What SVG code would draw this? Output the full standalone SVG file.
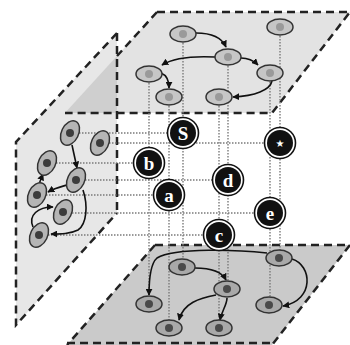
<svg xmlns="http://www.w3.org/2000/svg" width="350" height="345" viewBox="0 0 350 345">
<defs>
<style>
.edge{fill:none;stroke:#222;stroke-dasharray:8 5;stroke-width:2.5;}
.dot{fill:none;stroke:#7a7a7a;stroke-width:1.4;stroke-dasharray:1.5 1.5;}
.arr{fill:none;stroke:#111;stroke-width:1.6;marker-end:url(#ah);}
.tn{fill:#c6c6c6;stroke:#333;stroke-width:1.5;}
.tc{fill:#9a9a9a;}
.bn{fill:#a9a9a9;stroke:#333;stroke-width:1.5;}
.bc{fill:#4a4a4a;}
.ln{fill:#b5b5b5;stroke:#333;stroke-width:1.5;}
.lc{fill:#3c3c3c;}
.ring{fill:#fff;stroke:#111;stroke-width:1.6;}
.core{fill:#111;}
.lbl{fill:#fff;font-family:"Liberation Serif","DejaVu Serif",serif;font-weight:bold;font-size:19px;text-anchor:middle;}
</style>
<marker id="ah" viewBox="0 0 10 10" refX="9" refY="5" markerWidth="7" markerHeight="7" markerUnits="userSpaceOnUse" orient="auto">
<path d="M0,0 L10,5 L0,10 z" fill="#111"/>
</marker>
</defs>

<g id="planes">
<polygon id="left-plane" points="117,33 117,213 16,325 16,142" fill="#e7e7e7" stroke="none"/>
<polygon id="top-plane" points="157,12 350,12 272,113 65,113" fill="#e3e3e3" stroke="none"/>
<polygon id="overlap" points="117,56 117,113 65,113" fill="#cfcfcf"/>
<polygon id="bottom-plane" points="155,245 350,245 272,345 67,345" fill="#cacaca" stroke="none"/>
<path class="edge" d="M117,33 L16,142 L16,325 L117,213 M117,33 L117,213"/>
<path class="edge" d="M157,12 L350,12 L272,113 L65,113 M157,12 L117,56"/>
<path class="edge" d="M155,245 L350,245 M350,245 L272,345 M155,245 L67,345 M67,343 L272,343"/>
</g>

<g id="connectors">
<g id="guides">
<path class="dot" d="M149,74 V304 M169,97 V328 M183,34 V267 M219,97 V328 M228,57 V289 M270,73 V305 M280,27 V258"/>
<path class="dot" d="M70,133 H183 M100,143 H280 M47,163 H149 M76,180 H228 M37,195 H169 M63,213 H270 M39,235 H219"/>
</g>
<g id="top-arrows">
<path class="arr" d="M196,33 C212,33 222,38 226,47"/>
<path class="arr" d="M215,57 C195,56 175,57 162,65"/>
<path class="arr" d="M161,73 C166,75 169,80 169,88"/>
<path class="arr" d="M241,58 C249,58 254,61 258,65"/>
<path class="arr" d="M272,81 C270,90 255,96 233,97"/>
</g>
<g id="bottom-arrows">
<path class="arr" d="M267,253 C240,250 175,247 157,258 C150,264 149,280 149,295"/>
<path class="arr" d="M292,259 C312,265 315,300 283,306"/>
<path class="arr" d="M195,268 C210,268 222,272 226,280"/>
<path class="arr" d="M216,295 C200,298 183,303 179,320"/>
<path class="arr" d="M227,298 C227,305 222,310 220,320"/>
</g>
<g id="left-arrows">
<path class="arr" d="M72,145 L77,168"/>
<path class="arr" d="M39,184 L43,174"/>
<path class="arr" d="M67,185 C60,187 55,188 48,192"/>
<path class="arr" d="M33,227 C28,215 38,207 53,207"/>
<path class="arr" d="M83,190 C88,205 87,224 78,230 C70,234 61,234 51,234"/>
</g>
</g>

<g id="top-nodes">
<g id="t1"><ellipse class="tn" cx="183" cy="34" rx="13" ry="8"/><circle class="tc" cx="183" cy="34" r="4"/></g>
<g id="t2"><ellipse class="tn" cx="280" cy="27" rx="13" ry="8"/><circle class="tc" cx="280" cy="27" r="4"/></g>
<g id="t3"><ellipse class="tn" cx="228" cy="57" rx="13" ry="8"/><circle class="tc" cx="228" cy="57" r="4"/></g>
<g id="t4"><ellipse class="tn" cx="270" cy="73" rx="13" ry="8"/><circle class="tc" cx="270" cy="73" r="4"/></g>
<g id="t5"><ellipse class="tn" cx="149" cy="74" rx="13" ry="8"/><circle class="tc" cx="149" cy="74" r="4"/></g>
<g id="t6"><ellipse class="tn" cx="169" cy="97" rx="13" ry="8"/><circle class="tc" cx="169" cy="97" r="4"/></g>
<g id="t7"><ellipse class="tn" cx="219" cy="97" rx="13" ry="8"/><circle class="tc" cx="219" cy="97" r="4"/></g>
</g>

<g id="bottom-nodes">
<g id="b1"><ellipse class="bn" cx="182" cy="267" rx="13" ry="8"/><circle class="bc" cx="182" cy="267" r="4"/></g>
<g id="b2"><ellipse class="bn" cx="279" cy="258" rx="13" ry="8"/><circle class="bc" cx="279" cy="258" r="4"/></g>
<g id="b3"><ellipse class="bn" cx="227" cy="289" rx="13" ry="8"/><circle class="bc" cx="227" cy="289" r="4"/></g>
<g id="b4"><ellipse class="bn" cx="269" cy="305" rx="13" ry="8"/><circle class="bc" cx="269" cy="305" r="4"/></g>
<g id="b5"><ellipse class="bn" cx="149" cy="304" rx="13" ry="8"/><circle class="bc" cx="149" cy="304" r="4"/></g>
<g id="b6"><ellipse class="bn" cx="169" cy="328" rx="13" ry="8"/><circle class="bc" cx="169" cy="328" r="4"/></g>
<g id="b7"><ellipse class="bn" cx="219" cy="328" rx="13" ry="8"/><circle class="bc" cx="219" cy="328" r="4"/></g>
</g>

<g id="left-nodes">
<g id="l1"><ellipse class="ln" cx="70" cy="133" rx="13" ry="8.5" transform="rotate(-64 70 133)"/><circle class="lc" cx="70" cy="133" r="4"/></g>
<g id="l2"><ellipse class="ln" cx="100" cy="143" rx="13" ry="8.5" transform="rotate(-64 100 143)"/><circle class="lc" cx="100" cy="143" r="4"/></g>
<g id="l3"><ellipse class="ln" cx="47" cy="163" rx="13" ry="8.5" transform="rotate(-64 47 163)"/><circle class="lc" cx="47" cy="163" r="4"/></g>
<g id="l4"><ellipse class="ln" cx="76" cy="180" rx="13" ry="8.5" transform="rotate(-64 76 180)"/><circle class="lc" cx="76" cy="180" r="4"/></g>
<g id="l5"><ellipse class="ln" cx="37" cy="195" rx="13" ry="8.5" transform="rotate(-64 37 195)"/><circle class="lc" cx="37" cy="195" r="4"/></g>
<g id="l6"><ellipse class="ln" cx="63" cy="212" rx="13" ry="8.5" transform="rotate(-64 63 212)"/><circle class="lc" cx="63" cy="212" r="4"/></g>
<g id="l7"><ellipse class="ln" cx="39" cy="235" rx="13" ry="8.5" transform="rotate(-64 39 235)"/><circle class="lc" cx="39" cy="235" r="4"/></g>
</g>

<g id="node-S"><circle class="ring" cx="183" cy="133" r="15.5"/><circle class="core" cx="183" cy="133" r="13"/><text class="lbl" x="183" y="139.5">S</text></g>
<g id="node-star"><circle class="ring" cx="280" cy="143" r="15.5"/><circle class="core" cx="280" cy="143" r="13"/><text x="280" y="147" fill="#fff" font-family="DejaVu Sans, sans-serif" font-size="10" text-anchor="middle">★</text></g>
<g id="node-b"><circle class="ring" cx="149" cy="163" r="15.5"/><circle class="core" cx="149" cy="163" r="13"/><text class="lbl" x="149" y="169.5">b</text></g>
<g id="node-d"><circle class="ring" cx="228" cy="180" r="15.5"/><circle class="core" cx="228" cy="180" r="13"/><text class="lbl" x="228" y="186.5">d</text></g>
<g id="node-a"><circle class="ring" cx="169" cy="195" r="15.5"/><circle class="core" cx="169" cy="195" r="13"/><text class="lbl" x="169" y="201.5">a</text></g>
<g id="node-e"><circle class="ring" cx="270" cy="213" r="15.5"/><circle class="core" cx="270" cy="213" r="13"/><text class="lbl" x="270" y="219.5">e</text></g>
<g id="node-c"><circle class="ring" cx="219" cy="235" r="15.5"/><circle class="core" cx="219" cy="235" r="13"/><text class="lbl" x="219" y="241.5">c</text></g>
</svg>
